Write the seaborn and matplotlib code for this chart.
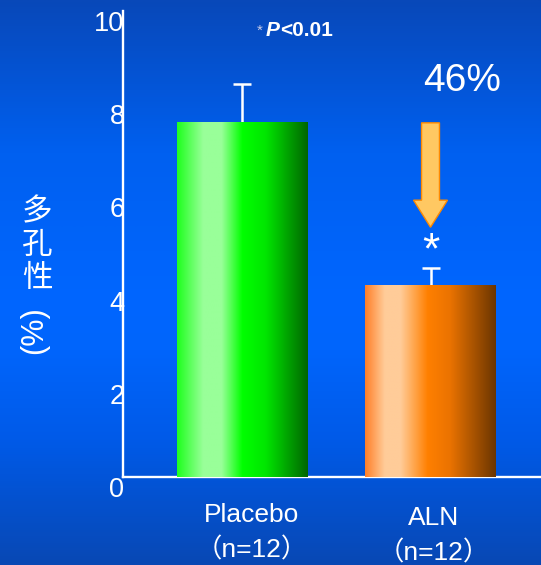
import numpy as np
import pandas as pd
import matplotlib
matplotlib.use("Agg")
import matplotlib.pyplot as plt
import seaborn as sns
from matplotlib.colors import LinearSegmentedColormap
from matplotlib.patches import FancyArrow

# ---- data -------------------------------------------------------------
groups = ["Placebo", "ALN"]
sample_sizes = [12, 12]
porosity = [7.6, 4.1]          # mean porosity (%)
porosity_err = [0.84, 0.38]    # upper error
arrow_tip = 5.36               # where the reduction arrow ends
reduction_label = "46%"
p_label = "<0.01"
y_ticks = [0, 2, 4, 6, 8, 10]
y_label_chars = ["多", "孔", "性"]
y_label_unit = "(%)"

# ---- style ------------------------------------------------------------
sns.set_theme(style="white")
plt.rcParams["font.family"] = ["Liberation Sans", "Noto Sans CJK SC", "DejaVu Sans"]
cjk = ["Noto Sans CJK SC", "DejaVu Sans"]

W, H = 541, 565
fig = plt.figure(figsize=(W / 100, H / 100), dpi=100)

# vertical blue background gradient
bg_stops = [
    (0.00, (8 / 255, 72 / 255, 185 / 255)),
    (0.27, (0 / 255, 96 / 255, 240 / 255)),
    (0.53, (0 / 255, 102 / 255, 255 / 255)),
    (0.62, (0 / 255, 101 / 255, 252 / 255)),
    (0.78, (0 / 255, 90 / 255, 232 / 255)),
    (1.00, (8 / 255, 72 / 255, 180 / 255)),
]
bg = fig.add_axes([0, 0, 1, 1], zorder=-10)
bg.imshow(np.linspace(0, 1, 512)[:, None], aspect="auto", origin="upper",
          extent=[0, 1, 0, 1], cmap=LinearSegmentedColormap.from_list("bg", bg_stops))
bg.set_axis_off()

ax = fig.add_axes([123 / W, (H - 477) / H, 1 - 123 / W, (477 - 11) / H])
ax.set_facecolor("none")

df = pd.DataFrame({"group": groups, "porosity": porosity})
sns.barplot(data=df, x="group", y="porosity", width=0.69, color="white",
            errorbar=None, ax=ax, zorder=3)

# horizontal shading for each bar
green = LinearSegmentedColormap.from_list("green", [
    (0.00, (0.12, 1.00, 0.12)),
    (0.20, (0.60, 1.00, 0.60)),
    (0.34, (0.60, 1.00, 0.60)),
    (0.50, (0.00, 1.00, 0.00)),
    (0.68, (0.00, 0.90, 0.00)),
    (1.00, (0.00, 0.40, 0.00)),
])
orange = LinearSegmentedColormap.from_list("orange", [
    (0.00, (1.00, 0.50, 0.16)),
    (0.15, (1.00, 0.80, 0.60)),
    (0.27, (1.00, 0.80, 0.60)),
    (0.48, (1.00, 0.50, 0.00)),
    (0.65, (0.92, 0.45, 0.00)),
    (1.00, (0.42, 0.21, 0.00)),
])
shade = np.linspace(0, 1, 256)[None, :]
for patch, cmap in zip(ax.patches, [green, orange]):
    x0, y0 = patch.get_x(), patch.get_y()
    w, h = patch.get_width(), patch.get_height()
    patch.set_facecolor("none")
    patch.set_edgecolor("none")
    ax.imshow(shade, extent=[x0, x0 + w, y0, y0 + h], aspect="auto",
              cmap=cmap, zorder=3, interpolation="bilinear")

# upper error bars
xpos = np.arange(len(groups))
ax.errorbar(xpos, porosity, yerr=[np.zeros(len(groups)), porosity_err],
            fmt="none", ecolor="white", elinewidth=1.8, capsize=6.5,
            capthick=1.8, zorder=2)

ax.set_xlim(-0.631, 1.586)
ax.set_ylim(0, 10)
ax.set_aspect("auto")

for side in ["top", "right"]:
    ax.spines[side].set_visible(False)
for side in ["left", "bottom"]:
    ax.spines[side].set_color("white")
    ax.spines[side].set_linewidth(1.7)

ax.set_yticks(y_ticks)
ax.set_yticklabels([str(t) for t in y_ticks])
ax.tick_params(axis="y", length=0, pad=-1, colors="white", labelsize=19.5)
for lab in ax.get_yticklabels():
    lab.set_va("top")
ax.set_xticks([])
ax.set_xlabel("")
ax.set_ylabel("")

# category labels below the axis
label_dx = [10, 3]
label_base = [(-45, -80), (-48, -83)]
for i, (g, n) in enumerate(zip(groups, sample_sizes)):
    ax.annotate(g, xy=(i, 0), xycoords=("data", "axes fraction"),
                xytext=(label_dx[i], label_base[i][0]), textcoords="offset pixels",
                ha="center", va="baseline", fontsize=19, color="white")
    ax.annotate(f"（n={n}）", xy=(i, 0), xycoords=("data", "axes fraction"),
                xytext=(label_dx[i], label_base[i][1]), textcoords="offset pixels",
                ha="center", va="baseline", fontsize=19, color="white",
                family=["Liberation Sans", "Noto Sans CJK SC"])

# vertical axis title: stacked characters plus rotated unit
for ch, ypx in zip(y_label_chars, [212, 245, 279]):
    fig.text(37 / W, 1 - ypx / H, ch, ha="center", va="center",
             fontsize=22, color="white", family=cjk)
fig.text(34 / W, 1 - 330 / H, y_label_unit, rotation=90, ha="center",
         va="center", fontsize=22, color="white")

# significance note
tP = ax.text(0.127, 9.46, "P", fontsize=15, fontweight="bold",
             fontstyle="italic", color="white", ha="left", va="baseline")
ax.annotate(p_label, xy=(1, 0), xycoords=tP, ha="left", va="bottom",
            fontsize=15, fontweight="bold", color="white")
ax.text(0.093, 9.49, "*", fontsize=11, color="#c8cce8", ha="center",
        va="baseline")

# reduction arrow and label
ax.add_patch(FancyArrow(1, porosity[0], 0, arrow_tip - porosity[0],
                        width=0.095, head_width=0.18, head_length=0.58,
                        length_includes_head=True, facecolor="#ffc862",
                        edgecolor="#ff8a00", linewidth=1.0, zorder=4))
ax.text(1.167, 8.28, reduction_label, fontsize=28, color="white",
        ha="center", va="baseline")
ax.annotate("*", xy=(1, porosity[1] + porosity_err[1]), xytext=(0, 5),
            textcoords="offset pixels", ha="center", va="baseline",
            fontsize=32, color="white")

fig.savefig("out.png", dpi=100)
